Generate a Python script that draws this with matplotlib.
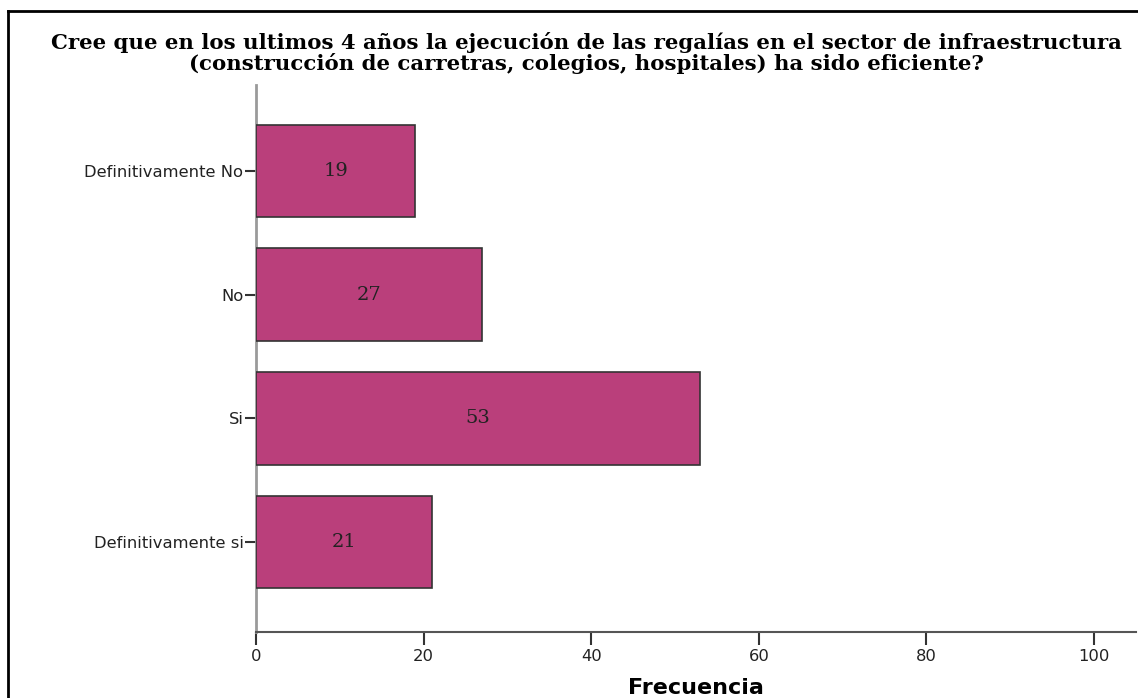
import matplotlib.pyplot as plt
from matplotlib.lines import Line2D

# Survey answers, top to bottom as in the chart
categorias = ["Definitivamente No", "No", "Si", "Definitivamente si"]
frecuencias = [19, 27, 53, 21]
xticks = [0, 20, 40, 60, 80, 100]

titulo = ("Cree que en los ultimos 4 años la ejecución de las regalías en el sector de infraestructura\n"
          "(construcción de carretras, colegios, hospitales) ha sido eficiente?")

W, H = 1138, 698
fig = plt.figure(figsize=(W / 100, H / 100), dpi=100)
ax = fig.add_axes([256 / W, 1 - 632 / H, (1136 - 256) / W, (632 - 85) / H])

n = len(categorias)
pos = [n - 1 - i for i in range(n)]
bars = ax.barh(pos, frecuencias, height=0.75, color="#BA3F7B",
               edgecolor="#333333", linewidth=1.2, zorder=3)

for p, v in zip(pos, frecuencias):
    ax.text(v / 2, p, str(v), ha="center", va="center",
            family="DejaVu Serif", fontsize=14, color="#222222", zorder=4)

ax.set_xlim(0, 105)
ax.set_ylim(-0.728, n - 1 + 0.695)
ax.set_xticks(xticks)
ax.set_yticks(pos)
ax.set_yticklabels(categorias)

for s in ["top", "right"]:
    ax.spines[s].set_visible(False)
ax.spines["left"].set_color("#9a9a9a")
ax.spines["left"].set_linewidth(2)
ax.spines["bottom"].set_color("#555555")
ax.spines["bottom"].set_linewidth(1.5)

ax.tick_params(axis="x", direction="out", length=9, width=1.5, color="#333333",
               labelsize=11.8, labelcolor="#222222", pad=3)
ax.tick_params(axis="y", direction="out", length=8, width=1.5, color="#333333",
               labelsize=11.8, labelcolor="#222222", pad=1)
for lab in ax.get_xticklabels() + ax.get_yticklabels():
    lab.set_family("DejaVu Sans")

ax.set_xlabel("Frecuencia", fontsize=16, fontweight="bold", family="DejaVu Sans",
              labelpad=10)

fig.text(0.515, 1 - 53 / H, titulo, ha="center", va="center", family="DejaVu Serif",
         fontweight="bold", fontsize=15.3, linespacing=0.95)

# outer frame (top and left edges only visible)
fig.add_artist(Line2D([8 / W, 1], [1 - 11 / H, 1 - 11 / H], color="black", linewidth=2,
                      transform=fig.transFigure))
fig.add_artist(Line2D([8 / W, 8 / W], [0, 1 - 11 / H], color="black", linewidth=2,
                      transform=fig.transFigure))

fig.savefig("out.png", dpi=100)
